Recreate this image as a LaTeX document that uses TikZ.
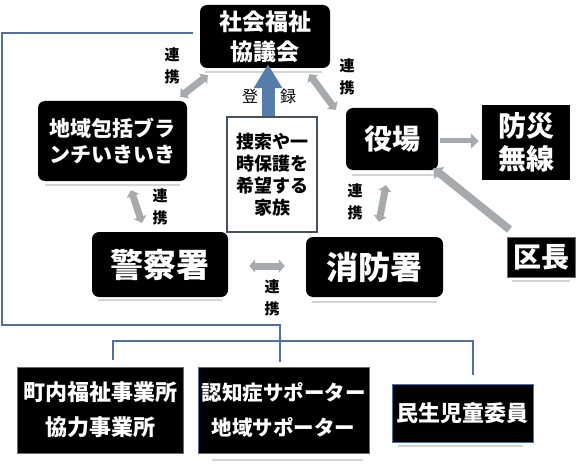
\documentclass[tikz,border=0pt]{standalone}
\usepackage{fontspec}
\setmainfont{Noto Sans CJK JP}
\usetikzlibrary{arrows.meta, calc}

\definecolor{linkgray}{RGB}{166,170,173}
\definecolor{regblue}{RGB}{84,125,172}
\definecolor{framebl}{RGB}{79,113,160}
\definecolor{shadegray}{RGB}{210,213,210}
\definecolor{boxedge}{RGB}{70,80,95}

\tikzset{
  org/.style={fill=black, text=white, align=center, inner sep=0pt, rounded corners=7pt},
  orgsq/.style={fill=black, text=white, align=center, inner sep=0pt},
  member/.style={orgsq, draw=framebl, line width=1pt},
  link/.style={linkgray, line width=7pt, {Triangle[width=13pt,length=6pt]}-{Triangle[width=13pt,length=6pt]}},
  onelink/.style={linkgray, line width=7pt, -{Triangle[width=15pt,length=8pt]}},
  renkei/.style={font=\bfseries\fontsize{15}{22}\selectfont, align=center, inner sep=0pt},
  frame/.style={framebl, line width=1.5pt},
  shade/.style={shadegray, line width=2pt}
}

\begin{document}
\begin{tikzpicture}[x=1pt, y=-1pt]
    \useasboundingbox (0,0) rectangle (580,465);

    % shadows under the boxes
    \draw[shade] (205,72) -- (322,72);
    \draw[shade] (45,185) -- (180,185);
    \draw[shade] (352,175) -- (438,175);
    \draw[shade] (98,300) -- (222,300);
    \draw[shade] (312,302) -- (437,302);
    \draw[shade] (512,281) -- (570,281);
    \draw[shade] (398,446) -- (523,446);
    \draw[shade] (212,460) -- (363,460);

    % organisations
    \node[org, minimum width=130pt, minimum height=63pt, font=\bfseries\fontsize{23}{30}\selectfont] (soc) at (265,36.5) {社会福祉\\協議会};
    \node[org, minimum width=149pt, minimum height=80pt, font=\bfseries\fontsize{21}{26}\selectfont] (hou) at (112.5,141) {地域包括ブラ\\ンチいきいき};
    \node[org, minimum width=92pt, minimum height=62pt, font=\bfseries\fontsize{28}{30}\selectfont] (yak) at (392,139) {役場};
    \node[orgsq, minimum width=88pt, minimum height=75pt, font=\bfseries\fontsize{28}{33}\selectfont] (bou) at (526,142.5) {防災\\無線};
    \node[org, minimum width=136pt, minimum height=65pt, font=\bfseries\fontsize{33}{33}\selectfont] (kei) at (160,264.5) {警察署};
    \node[org, minimum width=137pt, minimum height=60pt, font=\bfseries\fontsize{32}{32}\selectfont] (sho) at (374.5,267) {消防署};
    \node[member, minimum width=68pt, minimum height=40pt, font=\bfseries\fontsize{28}{28}\selectfont] (ku) at (541,257) {区長};

    % local members
    \node[member, minimum width=166pt, minimum height=86pt, font=\bfseries\fontsize{22}{35}\selectfont] (cho) at (100,410) {町内福祉事業所\\協力事業所};
    \node[member, minimum width=171pt, minimum height=86pt, font=\bfseries\fontsize{20.5}{35}\selectfont] (nin) at (283.5,410) {認知症サポーター\\地域サポーター};
    \node[member, minimum width=141pt, minimum height=58pt, font=\bfseries\fontsize{22}{22}\selectfont] (min) at (462.5,413) {民生児童委員};

    % family and registration
    \draw[regblue, line width=13pt, -{Triangle[width=27pt,length=24pt]}] ([xshift=-4pt]272,117) -- ([xshift=3pt,yshift=4pt]soc.south);
    \node[draw=boxedge, line width=1.5pt, fill=white, minimum width=90pt, minimum height=115pt, align=center, inner sep=0pt, font=\bfseries\fontsize{18}{22}\selectfont] (fam) at (272,174.5) {捜索や一\\時保護を\\希望する\\家族};
    \node[font=\fontsize{16}{16}\selectfont, inner sep=0pt] (reg1) at (250,96) {登};
    \node[font=\fontsize{16}{16}\selectfont, inner sep=0pt] (reg2) at (288,96) {録};

    % frame round the local members
    \coordinate (fcorner) at (2,325);
    \coordinate (bus) at (280,341);
    \draw[frame] ([xshift=-7pt,yshift=3.5pt]soc.west) -| (fcorner) -| (bus);
    \draw[frame] ([xshift=13pt,yshift=7pt]cho.north) |- (bus) -| ([xshift=10.5pt,yshift=9pt]min.north);
    \draw[frame] (bus) -- ([xshift=-3.5pt,yshift=5pt]nin.north);

    % links
    \draw[link] ($(hou.north east)+(-7,-4)$) -- ($(soc.south west)+(8,7)$);
    \draw[link] ($(soc.south east)+(-21,6)$) -- ($(yak.north west)+(-10,2)$);
    \draw[link] ($(hou.south)+(18.5,9)$) -- ($(kei.north)+(-18,-9)$);
    \draw[link] ($(kei.east)+(21,1.5)$) -- ($(sho.west)+(-21,-1)$);
    \draw[link] ($(yak.south)+(-6,15)$) -- ($(sho.north)+(4.5,-15)$);
    \draw[onelink, line width=5pt] ($(yak.east)+(2,2)$) -- ($(bou.west)+(-3,-1.5)$);
    \draw[onelink, line width=8pt] ($(ku.north west)+(3,-7)$) -- ($(yak.south east)+(-5,-2)$);

    \node[renkei] (rk1) at (172,66) {連\\携};
    \node[renkei] (rk2) at (347,77) {連\\携};
    \node[renkei] (rk3) at (160,207) {連\\携};
    \node[renkei] (rk4) at (355,202) {連\\携};
    \node[renkei] (rk5) at (272,298) {連\\携};
\end{tikzpicture}
\end{document}
